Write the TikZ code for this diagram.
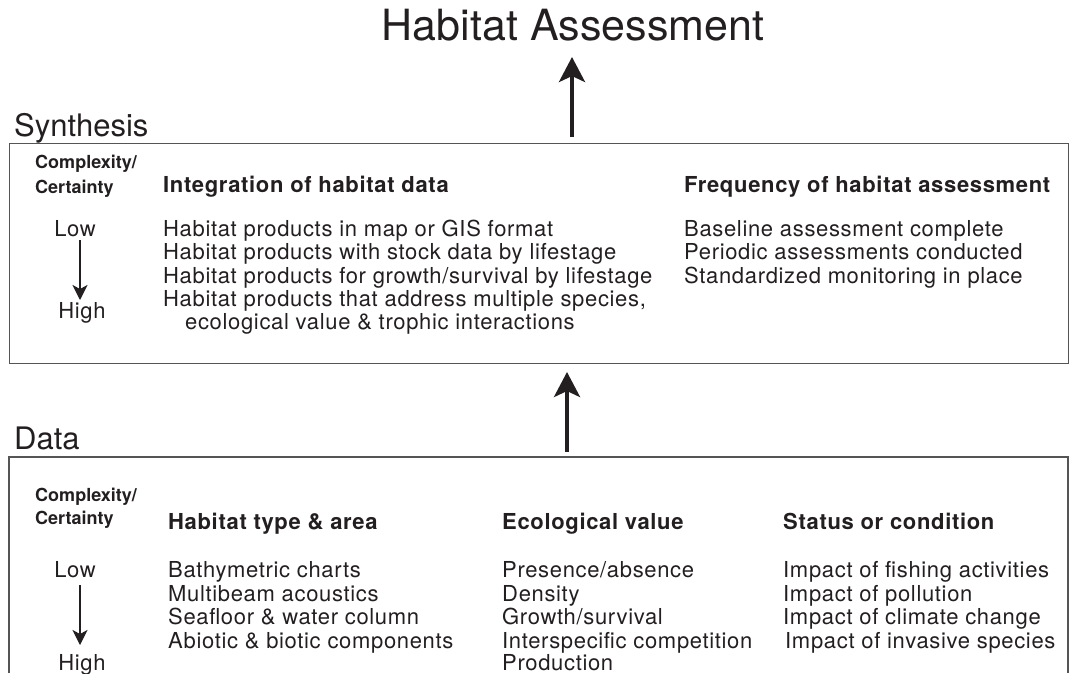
\documentclass[tikz,border=0pt]{standalone}
\usepackage{fontspec}
\setmainfont{TeX Gyre Heros}
\newfontfamily\bodyfont[LetterSpace=3]{TeX Gyre Heros}
\usetikzlibrary{arrows.meta}
\definecolor{ink}{HTML}{231F20}
\definecolor{frame}{HTML}{555555}
\begin{document}
\begin{tikzpicture}[x=1pt,y=-1pt,
 txt/.style={anchor=base west, inner sep=0pt, text=ink, font=\bodyfont\fontsize{22}{23}\selectfont},
 hdr/.style={anchor=base west, inner sep=0pt, text=ink, font=\bodyfont\fontsize{22}{23}\selectfont\bfseries},
 cc/.style={anchor=base west, inner sep=0pt, text=ink, font=\fontsize{18}{18}\selectfont\bfseries},
 lh/.style={anchor=base, inner sep=0pt, text=ink, font=\bodyfont\fontsize{22}{23}\selectfont},
 big/.style={anchor=base, inner sep=0pt, text=ink, font=\fontsize{43}{48}\selectfont},
 sec/.style={anchor=base west, inner sep=0pt, text=ink, font=\fontsize{31}{32}\selectfont},
 boxline/.style={draw=frame, line width=1.3pt},
 bigarrow/.style={draw=ink, line width=4pt, -{Stealth[length=25pt,width=26pt,inset=6pt]}},
 smallarrow/.style={draw=ink, line width=2pt, -{Stealth[length=15pt,width=15pt,inset=4pt]}},
]
\useasboundingbox (0,0) rectangle (1073,673);

% title and section labels
\node[big] (title) at (573,40) {Habitat Assessment};
\node[sec] (synlabel) at (14,136) {Synthesis};
\node[sec] (datalabel) at (14,449) {Data};

% boxes
\node[boxline, rectangle, minimum width=1059pt, minimum height=220pt, inner sep=0pt, anchor=north west] (synbox) at (9,143) {};
\coordinate (dataNW) at (9,457);
\coordinate (dataNE) at (1068,457);
\coordinate (dataSW) at (9,673);
\coordinate (dataSE) at (1068,673);
\draw[boxline] (dataSW) -- (dataNW) -- (dataNE) -- (dataSE);

% big arrows
\coordinate (a1s) at (572,137);
\coordinate (a1e) at (572,57);
\draw[bigarrow] (a1s) -- (a1e);
\coordinate (a2s) at (567,452);
\coordinate (a2e) at (567,372);
\draw[bigarrow] (a2s) -- (a2e);

% synthesis contents
\node[cc] (sc1) at (35,168) {Complexity/};
\node[cc] (sc2) at (35,193) {Certainty};
\node[lh] (slow) at (75,236) {Low};
\node[lh] (shigh) at (82,318) {High};
\coordinate (sarS) at (80,240);
\coordinate (sarE) at (80,300);
\draw[smallarrow] (sarS) -- (sarE);

\node[hdr] (sh1) at (163,192) {Integration of habitat data};
\node[txt] (s11) at (163,236) {Habitat products in map or GIS format};
\node[txt] (s12) at (163,259) {Habitat products with stock data by lifestage};
\node[txt] (s13) at (163,283) {Habitat products for growth/survival by lifestage};
\node[txt] (s14) at (163,306) {Habitat products that address multiple species,};
\node[txt] (s15) at (185,329) {ecological value \& trophic interactions};

\node[hdr] (sh2) at (684,192) {Frequency of habitat assessment};
\node[txt] (s21) at (684,236) {Baseline assessment complete};
\node[txt] (s22) at (684,259) {Periodic assessments conducted};
\node[txt] (s23) at (684,283) {Standardized monitoring in place};

% data contents
\node[cc] (dc1) at (35,501) {Complexity/};
\node[cc] (dc2) at (35,524) {Certainty};
\node[lh] (dlow) at (75,577) {Low};
\node[lh] (dhigh) at (82,670) {High};
\coordinate (darS) at (80,585);
\coordinate (darE) at (80,645);
\draw[smallarrow] (darS) -- (darE);

\node[hdr] (dh1) at (168,529) {Habitat type \& area};
\node[txt] (d11) at (168,577) {Bathymetric charts};
\node[txt] (d12) at (168,601) {Multibeam acoustics};
\node[txt] (d13) at (168,624) {Seafloor \& water column};
\node[txt] (d14) at (168,648) {Abiotic \& biotic components};

\node[hdr] (dh2) at (502,529) {Ecological value};
\node[txt] (d21) at (502,577) {Presence/absence};
\node[txt] (d22) at (502,601) {Density};
\node[txt] (d23) at (502,624) {Growth/survival};
\node[txt] (d24) at (502,648) {Interspecific competition};
\node[txt] (d25) at (502,670) {Production};

\node[hdr] (dh3) at (783,529) {Status or condition};
\node[txt] (d31) at (783,577) {Impact of fishing activities};
\node[txt] (d32) at (783,601) {Impact of pollution};
\node[txt] (d33) at (783,624) {Impact of climate change};
\node[txt] (d34) at (785,648) {Impact of invasive species};
\end{tikzpicture}
\end{document}
